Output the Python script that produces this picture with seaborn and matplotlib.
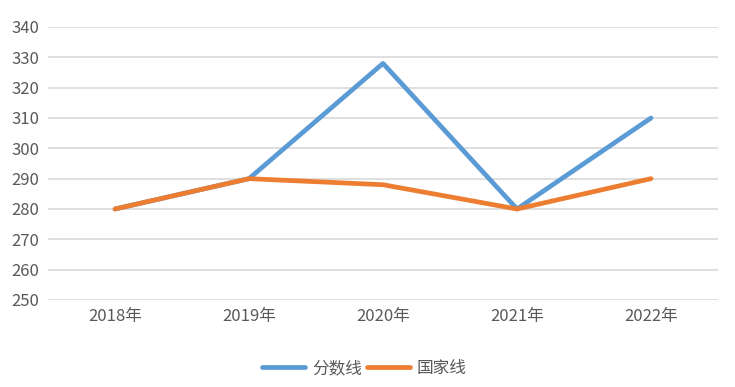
import pandas as pd
import seaborn as sns
import matplotlib.pyplot as plt

years = ["2018年", "2019年", "2020年", "2021年", "2022年"]
score_line = [280, 290, 328, 280, 310]
national_line = [280, 290, 288, 280, 290]
series_names = ["分数线", "国家线"]

df = pd.DataFrame({
    "年份": years * 2,
    "分数": score_line + national_line,
    "类别": [series_names[0]] * len(years) + [series_names[1]] * len(years),
})

sns.set_theme(style="whitegrid")
plt.rcParams['font.family'] = ['Noto Sans CJK SC', 'DejaVu Sans']

fig = plt.figure(figsize=(7.35, 3.87), dpi=100)
ax = fig.add_axes([48 / 735, 1 - 300 / 387, 670 / 735, 273 / 387])

sns.lineplot(data=df, x="年份", y="分数", hue="类别",
             palette=["#5B9BD5", "#ED7D31"], linewidth=3.4,
             sort=False, ax=ax)
for ln in ax.lines:
    ln.set_solid_capstyle("round")

ax.set_xlim(-0.5, 4.5)
ax.set_ylim(250, 340)
ax.set_yticks(range(250, 341, 10))
ax.grid(axis="y", color="#D9D9D9", linewidth=1.2)
ax.grid(axis="x", visible=False)
for s in ax.spines.values():
    s.set_visible(False)
ax.set(xlabel="", ylabel="")
ax.tick_params(axis="both", colors="#595959", labelsize=12, length=0, pad=6)

# legend sits a bit left of the axes centre, as in the original
leg = ax.legend(loc="upper center", bbox_to_anchor=(0.472, -0.165), ncol=2, frameon=False,
                fontsize=12, labelcolor="#595959", handlelength=2.6,
                columnspacing=0.3, handletextpad=0.4)
for h in leg.get_lines():
    h.set_linewidth(3.4)
    h.set_solid_capstyle("round")

fig.savefig("out.png", dpi=100)
